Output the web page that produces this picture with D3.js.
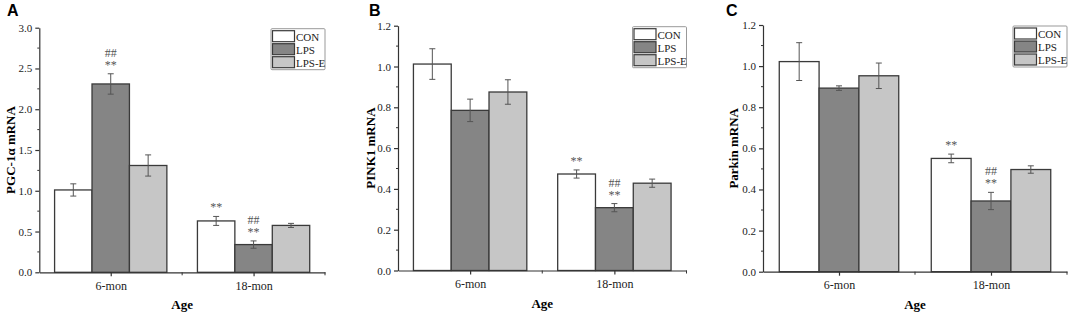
<!DOCTYPE html>
<html>
<head>
<meta charset="utf-8">
<script src="https://cdn.jsdelivr.net/npm/d3@7"></script>
<style>
  body { margin: 0; background: #fff; }
  svg { display: block; }
</style>
</head>
<body>
<svg id="chart" width="1074" height="314"></svg>
<script>
// groups and series
const ageGroups = ["6-mon", "18-mon"]
const seriesNames = ["CON", "LPS", "LPS-E"]

// panel A: PGC-1a
const pgcMeans = [[1.01, 2.31, 1.31], [0.63, 0.34, 0.575]]
const pgcErrors = [[0.075, 0.125, 0.13], [0.055, 0.045, 0.025]]
const pgcTicks = [0.0, 0.5, 1.0, 1.5, 2.0, 2.5, 3.0]

// panel B: PINK1
const pinkMeans = [[1.012, 0.785, 0.875], [0.473, 0.308, 0.428]]
const pinkErrors = [[0.075, 0.055, 0.06], [0.02, 0.02, 0.02]]
const pinkTicks = [0.0, 0.2, 0.4, 0.6, 0.8, 1.0, 1.2]

// panel C: Parkin
const parkinMeans = [[1.022, 0.893, 0.953], [0.551, 0.344, 0.497]]
const parkinErrors = [[0.092, 0.011, 0.062], [0.021, 0.042, 0.018]]
const parkinTicks = [0.0, 0.2, 0.4, 0.6, 0.8, 1.0, 1.2]

// significance marks: [group, series, lines from top]
const pgcMarks = [[0, 1, ["##", "**"]], [1, 0, ["**"]], [1, 1, ["##", "**"]]]
const pinkMarks = [[1, 0, ["**"]], [1, 1, ["##", "**"]]]
const parkinMarks = [[1, 0, ["**"]], [1, 1, ["##", "**"]]]

const fills = ["#ffffff", "#858585", "#c6c6c6"]
const serif = "'Liberation Serif', 'Times New Roman', serif"
const svg = d3.select("#chart")

function drawPanel(p) {
  const g = svg.append("g")
  const x = d3.scaleLinear().domain([0.5, 2.5]).range([p.left, p.right])
  const yMax = p.ticks[p.ticks.length - 1]
  const y = d3.scaleLinear().domain([0, yMax]).range([p.bottom, p.top])
  const step = p.ticks[1] - p.ticks[0]
  const barW = 0.262

  // bars
  p.means.forEach((row, gi) => {
    row.forEach((v, si) => {
      const cx = gi + 1 + (si - 1) * barW
      g.append("rect")
        .attr("x", x(cx - barW / 2))
        .attr("y", y(v))
        .attr("width", x(cx + barW / 2) - x(cx - barW / 2))
        .attr("height", y(0) - y(v))
        .attr("fill", fills[si])
        .attr("stroke", "#3a3a3a")
        .attr("stroke-width", 1.3)

      const e = p.errors[gi][si]
      const ex = x(cx)
      g.append("line")
        .attr("x1", ex).attr("x2", ex)
        .attr("y1", y(v + e)).attr("y2", y(v - e))
        .attr("stroke", "#555").attr("stroke-width", 1)
      ;[v + e, v - e].forEach(t => {
        g.append("line")
          .attr("x1", ex - 3).attr("x2", ex + 3)
          .attr("y1", y(t)).attr("y2", y(t))
          .attr("stroke", "#555").attr("stroke-width", 1)
      })
    })
  })

  // significance marks
  p.marks.forEach(([gi, si, lines]) => {
    const cx = gi + 1 + (si - 1) * barW
    const topVal = p.means[gi][si] + p.errors[gi][si]
    lines.slice().reverse().forEach((s, k) => {
      g.append("text")
        .attr("x", x(cx))
        .attr("y", y(topVal) - 5 - k * 12)
        .attr("text-anchor", "middle")
        .style("font-family", serif)
        .style("font-size", "12px")
        .style("fill", "#555")
        .text(s)
    })
  })

  // y axis
  const yAxis = d3.axisLeft(y).tickValues(p.ticks)
    .tickFormat(d3.format(".1f")).tickSize(4).tickPadding(3).tickSizeOuter(0)
  const ya = g.append("g").attr("transform", `translate(${p.left},0)`).call(yAxis)
  ya.attr("font-family", null)
  ya.selectAll("text").style("font-family", serif).style("font-size", "11px").style("fill", "#222")
  const minor = d3.range(step / 2, yMax, step)
  ya.selectAll(".minor").data(minor).enter().append("line")
    .attr("x1", -2).attr("x2", 0)
    .attr("y1", d => y(d)).attr("y2", d => y(d))
    .attr("stroke", "#333")

  // x axis
  const xAxis = d3.axisBottom(x).tickValues([1, 2])
    .tickFormat((d, i) => ageGroups[i]).tickSize(4).tickPadding(5).tickSizeOuter(0)
  const xa = g.append("g").attr("transform", `translate(0,${p.bottom})`).call(xAxis)
  xa.attr("font-family", null)
  xa.selectAll("text").style("font-family", serif).style("font-size", "12px").style("fill", "#222")
  xa.selectAll(".minor").data([1.5, 2.5]).enter().append("line")
    .attr("x1", d => x(d)).attr("x2", d => x(d))
    .attr("y1", 0).attr("y2", 3)
    .attr("stroke", "#333")
  g.selectAll(".domain, .tick line").attr("stroke", "#333").attr("stroke-width", 1.2)

  // titles
  g.append("text")
    .attr("x", (p.left + p.right) / 2)
    .attr("y", p.bottom + 37)
    .attr("text-anchor", "middle")
    .style("font-family", serif).style("font-size", "13px").style("font-weight", "bold")
    .text("Age")
  g.append("text")
    .attr("transform", `translate(${p.titleX},${(p.top + p.bottom) / 2}) rotate(-90)`)
    .attr("text-anchor", "middle")
    .style("font-family", serif).style("font-size", "13px").style("font-weight", "bold")
    .text(p.title)
  g.append("text")
    .attr("x", p.letterX).attr("y", 16)
    .style("font-family", "'Liberation Sans', Arial, sans-serif")
    .style("font-size", "16px").style("font-weight", "bold")
    .text(p.letter)

  // legend
  const lw = 54, lh = 41
  const lg = g.append("g").attr("transform", `translate(${p.right - lw},${p.top + 1})`)
  lg.append("rect").attr("width", lw).attr("height", lh)
    .attr("fill", "#fff").attr("stroke", "#999").attr("stroke-width", 1).attr("rx", 1)
  seriesNames.forEach((name, i) => {
    lg.append("rect")
      .attr("x", 1.5).attr("y", 2 + i * 13)
      .attr("width", 22).attr("height", 11)
      .attr("fill", fills[i]).attr("stroke", "#3a3a3a").attr("stroke-width", 1.2)
    lg.append("text")
      .attr("x", 25).attr("y", 12 + i * 13)
      .style("font-family", serif).style("font-size", "11px").style("fill", "#222")
      .text(name)
  })
}

drawPanel({ letter: "A", letterX: 7, title: "PGC-1α mRNA", titleX: 15,
  left: 39.3, right: 325, top: 27.7, bottom: 272.3,
  ticks: pgcTicks, means: pgcMeans, errors: pgcErrors, marks: pgcMarks })
drawPanel({ letter: "B", letterX: 369, title: "PINK1 mRNA", titleX: 375,
  left: 398, right: 686.5, top: 25.7, bottom: 270.5,
  ticks: pinkTicks, means: pinkMeans, errors: pinkErrors, marks: pinkMarks })
drawPanel({ letter: "C", letterX: 726, title: "Parkin mRNA", titleX: 738,
  left: 763, right: 1067, top: 25, bottom: 271.7,
  ticks: parkinTicks, means: parkinMeans, errors: parkinErrors, marks: parkinMarks })
</script>
</body>
</html>
